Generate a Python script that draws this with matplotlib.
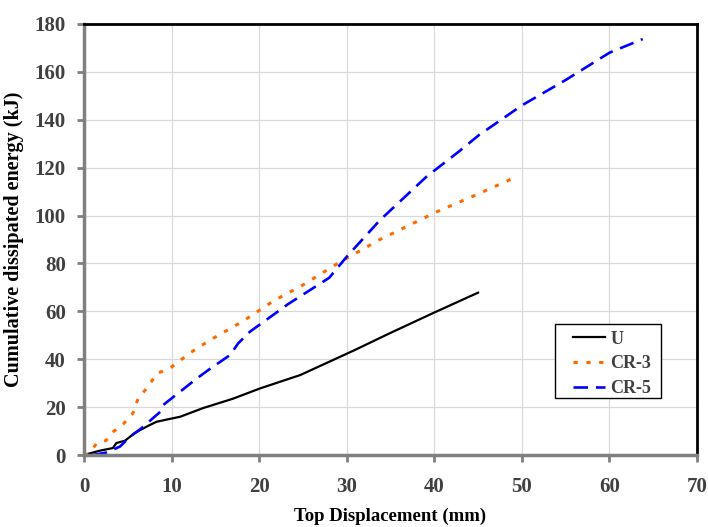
import matplotlib
matplotlib.use("Agg")
import matplotlib.pyplot as plt
from matplotlib.patches import Rectangle

# ---- data ----
u_x = [0, 1, 1.8, 3.3, 3.7, 4.7, 5.8, 6.4, 7.5, 8.3, 11, 13.6, 17, 20.1, 24.7, 30.9, 35, 40, 45]
u_y = [0, 1, 1.8, 2.9, 5.0, 6.0, 9.2, 10.4, 12.5, 13.9, 16.0, 19.6, 23.5, 27.8, 33.4, 43.8, 51, 59.5, 67.8]

cr3_x = [0, 0.5, 1.5, 2.5, 3.3, 4.5, 5.6, 6.2, 7.3, 8.3, 9.8, 12.1, 14.4, 18.2, 21.8, 25, 29, 33.8, 40.3, 45, 49.4]
cr3_y = [0, 0.5, 5.0, 6.0, 9.6, 13.0, 17.5, 23.8, 28.4, 34.0, 36.2, 42.6, 48.0, 56.0, 64.7, 71.0, 80.1, 90.0, 101.6, 109.0, 116.2]

cr5_x = [1.0, 1.45, 2.5, 4.1, 5.25, 6.5, 8.7, 9.05, 12.9, 14.2, 16.7, 17.6, 18.95, 23.3, 28, 30, 33.8, 39.1, 42.9, 45.1, 50, 55, 60, 63.8]
cr5_y = [0, 0.3, 1.0, 3.5, 7.6, 11.0, 18.0, 20.9, 32.0, 35.5, 41.8, 46.6, 51.5, 63.0, 74.0, 82.8, 98.1, 116.2, 127.0, 133.6, 146.0, 156.6, 168.0, 173.7]

x_ticks = [0, 10, 20, 30, 40, 50, 60, 70]
y_ticks = [0, 20, 40, 60, 80, 100, 120, 140, 160, 180]

plt.rcParams["font.family"] = ["Liberation Serif", "DejaVu Serif"]
plt.rcParams["font.weight"] = "bold"

TXT = "#404040"
SPINE_GRAY = "#808080"

fig = plt.figure(figsize=(7.08, 5.27), dpi=100)
ax = fig.add_axes([0.1186, 0.1366, 0.8659, 0.8179])

ax.plot(u_x, u_y, color="black", lw=1.6, label="U")
ax.plot(cr3_x, cr3_y, color="#ff6a00", lw=2.2, ls=(0, (1.4, 2.8)), label="CR-3")
ax.plot(cr5_x, cr5_y, color="#0000ff", lw=1.9, ls=(0, (5.5, 3.0)), label="CR-5")

ax.set_xlim(0, 70)
ax.set_ylim(0, 180)
ax.set_xticks(x_ticks)
ax.set_yticks(y_ticks)
ax.grid(True, color="#d9d9d9", lw=0.9)
ax.set_axisbelow(True)

for side in ("left", "bottom"):
    ax.spines[side].set_color(SPINE_GRAY)
    ax.spines[side].set_linewidth(2.5)
for side in ("top", "right"):
    ax.spines[side].set_color("black")
    ax.spines[side].set_linewidth(2.0)

ax.tick_params(axis="both", direction="out", length=5, width=2, color=SPINE_GRAY,
               labelsize=15, labelcolor=TXT)
ax.tick_params(axis="y", pad=8)
ax.tick_params(axis="x", pad=11)
for lab in ax.get_xticklabels() + ax.get_yticklabels():
    lab.set_fontweight("bold")

ax.set_xlabel("Top Displacement (mm)", fontsize=13.5, fontweight="bold", color="black", labelpad=7.5)
ax.set_ylabel("Cumulative dissipated energy (kJ)", fontsize=14.5, fontweight="bold", color="black", labelpad=8)

# legend box drawn separately so the padding matches the reference
ax.add_patch(Rectangle((0.768, 0.1323), 0.1728, 0.1717, transform=ax.transAxes,
                       facecolor="white", edgecolor="black", lw=1.0, zorder=4))
leg = ax.legend(loc="upper left", bbox_to_anchor=(0.7977, 0.2884), frameon=False,
                borderaxespad=0, borderpad=0, fontsize=13,
                handlelength=1.78, handletextpad=0.28, labelspacing=0.43)
leg.set_zorder(5)
for t in leg.get_texts():
    t.set_color(TXT)
    t.set_fontweight("bold")

fig.savefig("out.png", dpi=100)
